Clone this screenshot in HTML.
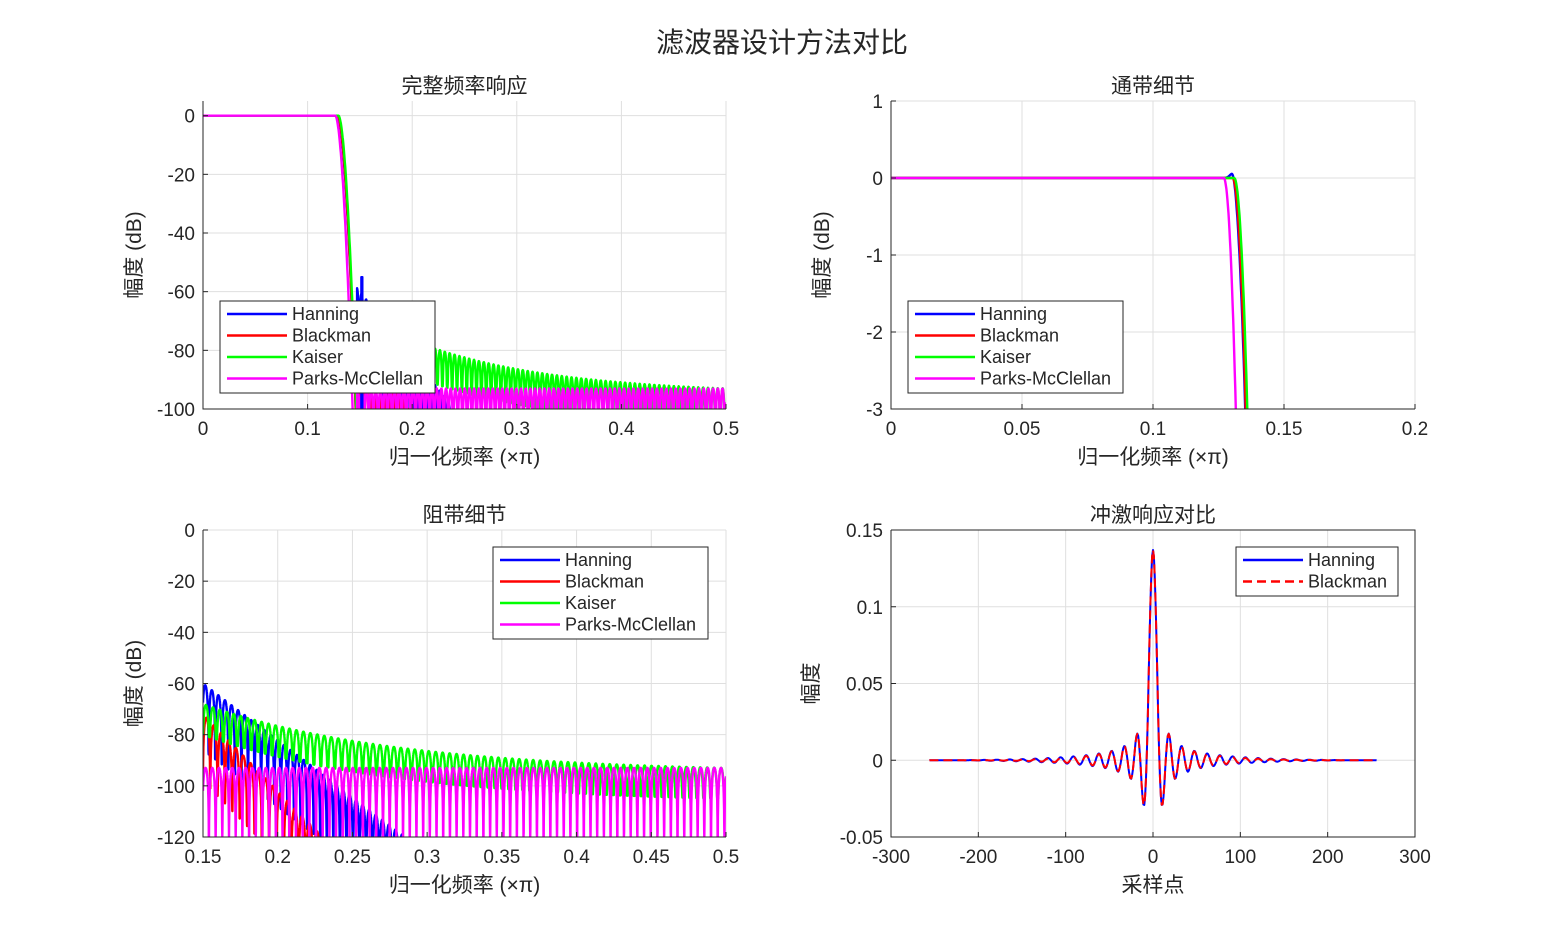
<!DOCTYPE html><html><head><meta charset="utf-8"><style>
body{margin:0;background:#fff;}
svg text{font-family:"Liberation Sans","Noto Sans CJK SC",sans-serif;fill:#262626;}
</style></head><body>
<svg id="s" width="1563" height="938" xmlns="http://www.w3.org/2000/svg">
<text x="782" y="52" font-size="28" text-anchor="middle">滤波器设计方法对比</text>
</svg>
<script>
const S=document.getElementById('s');const NS='http://www.w3.org/2000/svg';
function el(t,a,txt){const e=document.createElementNS(NS,t);for(const k in a)e.setAttribute(k,a[k]);if(txt!==undefined)e.textContent=txt;S.appendChild(e);return e;}
function axes(o){
 const {x0,x1,y0,y1,xmin,xmax,ymin,ymax,xt,yt,title,xl,yl}=o;
 const X=v=>x0+(v-xmin)/(xmax-xmin)*(x1-x0), Y=v=>y1-(v-ymin)/(ymax-ymin)*(y1-y0);
 el('rect',{x:x0,y:y0,width:x1-x0,height:y1-y0,fill:'#fff'});
 xt.forEach(v=>{el('line',{x1:X(v),x2:X(v),y1:y0,y2:y1,stroke:'#dfdfdf','stroke-width':1});
  el('text',{x:X(v),y:y1+26,'font-size':19,'text-anchor':'middle'},String(v));});
 yt.forEach(v=>{el('line',{x1:x0,x2:x1,y1:Y(v),y2:Y(v),stroke:'#dfdfdf','stroke-width':1});
  el('text',{x:x0-8,y:Y(v)+7,'font-size':19,'text-anchor':'end'},String(v));});
 el('text',{x:(x0+x1)/2,y:y0-8,'font-size':21,'text-anchor':'middle'},title);
 el('text',{x:(x0+x1)/2,y:y1+55,'font-size':21,'text-anchor':'middle'},xl);
 el('text',{x:0,y:0,'font-size':21,'text-anchor':'middle',transform:`translate(${o.ylx||x0-62},${(y0+y1)/2}) rotate(-90)`},yl);
 return {X,Y,o};
}
function frame(a){const {x0,x1,y0,y1,xt,yt}=a.o;
 el('path',{d:`M${x0},${y0}V${y1}H${x1}`+(a.o.box?`V${y0}H${x0}`:''),fill:'none',stroke:'#262626','stroke-width':1});
 xt.forEach(v=>el('line',{x1:a.X(v),x2:a.X(v),y1:y1,y2:y1-5,stroke:'#262626'}));
 yt.forEach(v=>el('line',{x1:x0,x2:x0+5,y1:a.Y(v),y2:a.Y(v),stroke:'#262626'}));
}
function poly(a,pts,col,w,dash){const {ymin,ymax}=a.o;const lo=ymin-(ymax-ymin)*0.2;
 let d=pts.map((p,i)=>(i?'L':'M')+a.X(p[0]).toFixed(1)+','+a.Y(Math.max(lo,p[1])).toFixed(1)).join('');
 const at={d,fill:'none',stroke:col,'stroke-width':w||2.4,'stroke-linejoin':'round'};if(dash)at['stroke-dasharray']=dash;
 return el('path',at);}
function clip(a,id){const c=el('clipPath',{id});const r=document.createElementNS(NS,'rect');
 r.setAttribute('x',a.o.x0);r.setAttribute('y',a.o.y0);r.setAttribute('width',a.o.x1-a.o.x0);r.setAttribute('height',a.o.y1-a.o.y0);c.appendChild(r);}
function legend(x,y,w,items){const h=items.length*21.5+6;
 el('rect',{x,y,width:w,height:h,fill:'#fff',stroke:'#262626','stroke-width':1});
 items.forEach((it,i)=>{const yy=y+13+i*21.5;
  el('line',{x1:x+7,x2:x+67,y1:yy,y2:yy,stroke:it[1],'stroke-width':2.4,'stroke-dasharray':it[2]||''});
  el('text',{x:x+72,y:yy+6,'font-size':18},it[0]);});}
const P=0.00448;
function stop(type,f){
 if(type=='m'){const ph=Math.abs(Math.sin(Math.PI*(f-0.145)/P));return -93+20*Math.log10(Math.max(ph,0.045));}
 if(type=='g'){const top=-68-25*(1-Math.exp(-(f-0.15)/0.13))/(1-Math.exp(-0.35/0.13));
   const sl=Math.abs(Math.sin(Math.PI*(f-0.145)/(P*1.04)));
   return top+20*Math.log10(Math.max(sl,0.25));}
 if(type=='b'){const top=-60-62*(f-0.15)/0.14;const sl=Math.abs(Math.sin(Math.PI*(f-0.145)/(P*0.98)));return top+20*Math.log10(Math.max(sl,0.05));}
 if(type=='r'){const top=-72-48*(f-0.15)/0.08;const sl=Math.abs(Math.sin(Math.PI*(f-0.145)/(P*1.1)));return top+20*Math.log10(Math.max(sl,0.05));}
}
const par={b:[0.1285,0.0175],r:[0.1288,0.0172],g:[0.1295,0.017],m:[0.1265,0.0165]};
function full(type,f){const [fc,bw]=par[type];if(f<fc)return 0;const t=(f-fc)/bw;const tr=-100*Math.pow(t,1.8);
 if(f<0.147||tr>stop(type,f))return Math.max(tr,-130);return stop(type,f);}
const cols={b:'#0000ff',r:'#ff0000',g:'#00ff00',m:'#ff00ff'};
const A1=axes({x0:203,x1:726,y0:101,y1:409,xmin:0,xmax:0.5,ymin:-100,ymax:5,xt:[0,0.1,0.2,0.3,0.4,0.5],yt:[0,-20,-40,-60,-80,-100],title:'完整频率响应',xl:'归一化频率 (×π)',yl:'幅度 (dB)'});
clip(A1,'c1');
['b','r','g','m'].forEach(t=>{const pts=[];for(let f=0;f<=0.5;f+=0.0003)pts.push([f,full(t,f)]);poly(A1,pts,cols[t]).setAttribute('clip-path','url(#c1)');});
poly(A1,[[0.1512,-100],[0.1512,-55],[0.1525,-55],[0.1525,-100]],'#0000ff',2).setAttribute('clip-path','url(#c1)');
frame(A1);
legend(220,301,215,[['Hanning','#0000ff'],['Blackman','#ff0000'],['Kaiser','#00ff00'],['Parks-McClellan','#ff00ff']]);
const A2=axes({x0:891,x1:1415,y0:101,y1:409,xmin:0,xmax:0.2,ymin:-3,ymax:1,xt:[0,0.05,0.1,0.15,0.2],yt:[1,0,-1,-2,-3],title:'通带细节',xl:'归一化频率 (×π)',yl:'幅度 (dB)'});
clip(A2,'c2');
function pb(t,f){const e={b:0.1300,r:0.1304,g:0.1310,m:0.1270}[t];const sc={b:0.0052,r:0.0050,g:0.0050,m:0.0046}[t];
 let v=f<e?0:-3*Math.pow((f-e)/sc,2);
 if(t=='b'){v+=0.06*Math.exp(-Math.pow((f-0.1305)/0.0016,2));}
 return v;}
['b','r','g','m'].forEach(t=>{const pts=[];for(let f=0;f<=0.2;f+=0.0002)pts.push([f,pb(t,f)]);poly(A2,pts,cols[t]).setAttribute('clip-path','url(#c2)');});
frame(A2);
legend(908,301,215,[['Hanning','#0000ff'],['Blackman','#ff0000'],['Kaiser','#00ff00'],['Parks-McClellan','#ff00ff']]);
const A3=axes({x0:203,x1:726,y0:530,y1:837,xmin:0.15,xmax:0.5,ymin:-120,ymax:0,xt:[0.15,0.2,0.25,0.3,0.35,0.4,0.45,0.5],yt:[0,-20,-40,-60,-80,-100,-120],title:'阻带细节',xl:'归一化频率 (×π)',yl:'幅度 (dB)'});
clip(A3,'c3');
['b','r','g','m'].forEach(t=>{const pts=[];for(let f=0.15;f<=0.5;f+=0.0001)pts.push([f,stop(t,f)]);poly(A3,pts,cols[t]).setAttribute('clip-path','url(#c3)');});
frame(A3);
legend(493,547,215,[['Hanning','#0000ff'],['Blackman','#ff0000'],['Kaiser','#00ff00'],['Parks-McClellan','#ff00ff']]);
const A4=axes({x0:891,x1:1415,y0:530,y1:837,xmin:-300,xmax:300,ymin:-0.05,ymax:0.15,xt:[-300,-200,-100,0,100,200,300],yt:[0.15,0.1,0.05,0,-0.05],title:'冲激响应对比',xl:'采样点',yl:'幅度',ylx:818,box:true});
function h(n,win){const wc=0.137;let s=n==0?wc:Math.sin(Math.PI*wc*n)/(Math.PI*n);
 const w=win=='h'?0.5+0.5*Math.cos(Math.PI*n/257):0.42+0.5*Math.cos(Math.PI*n/257)+0.08*Math.cos(2*Math.PI*n/257);return s*w;}
const hb=[],hk=[];for(let n=-256;n<=256;n++){hb.push([n,h(n,'h')]);hk.push([n,h(n,'b')]);}
poly(A4,hb,'#0000ff',2);poly(A4,hk,'#ff0000',2,'9,5');
frame(A4);
legend(1236,547,162,[['Hanning','#0000ff'],['Blackman','#ff0000','9,5']]);
</script>
</body></html>
